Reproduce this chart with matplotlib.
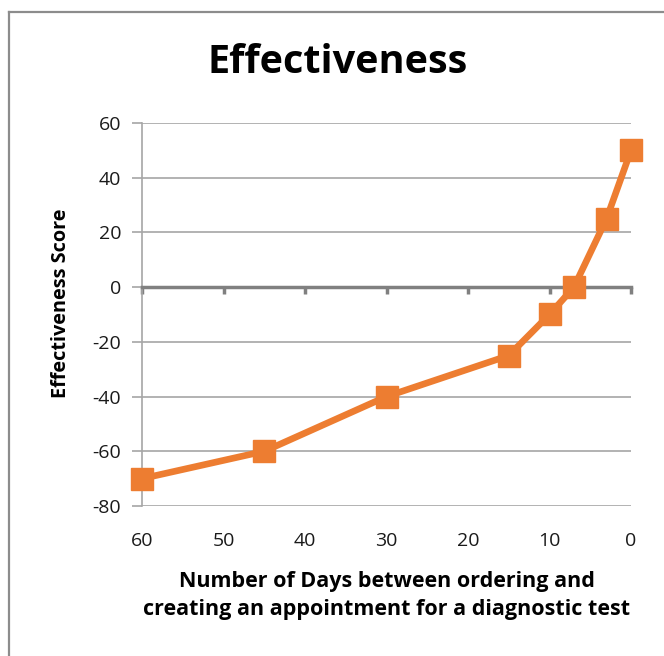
import matplotlib.pyplot as plt
from matplotlib.lines import Line2D

plt.rcParams['font.family'] = ['Open Sans', 'DejaVu Sans']
plt.rcParams['axes.unicode_minus'] = False

# data
days = [60, 45, 30, 15, 10, 7, 3, 0]
score = [-70, -60, -40, -25, -10, 0, 25, 50]
x_ticks = [60, 50, 40, 30, 20, 10, 0]
y_ticks = [60, 40, 20, 0, -20, -40, -60, -80]

orange = '#ED7D31'
grid_gray = '#A6A6A6'
axis_gray = '#808080'

fig = plt.figure(figsize=(6.64, 6.56), dpi=100)
ax = fig.add_axes([0.2139, 0.2287, 0.7364, 0.5838])

ax.plot(days, score, color=orange, lw=4.8, marker='s', ms=16.5,
        markeredgecolor=orange, zorder=5, clip_on=False)

ax.set_xlim(60, 0)
ax.set_ylim(-80, 60)
ax.set_xticks(x_ticks)
ax.set_yticks(y_ticks)

# horizontal gridlines
ax.grid(axis='y', color=grid_gray, lw=1.2)
ax.grid(axis='x', visible=False)
ax.set_axisbelow(True)

# spines: left gray, top moved to y=0 as the category axis
ax.spines['right'].set_visible(False)
ax.spines['bottom'].set_visible(False)
ax.spines['left'].set_color(grid_gray)
ax.spines['left'].set_linewidth(1.2)
ax.spines['top'].set_position(('data', 0))
ax.spines['top'].set_color(axis_gray)
ax.spines['top'].set_linewidth(2.5)
ax.spines['top'].set_zorder(3)

ax.tick_params(axis='x', top=True, bottom=False, labeltop=False,
               labelbottom=True, direction='in', length=5, width=2.5,
               color=axis_gray, pad=19, labelsize=14, labelcolor='#1a1a1a')
ax.tick_params(axis='y', direction='out', length=7, width=1.2,
               color=grid_gray, pad=8, labelsize=14, labelcolor='#1a1a1a')

fig.text(0.508, 0.905, 'Effectiveness', fontsize=28.5, fontweight='bold',
         ha='center', va='center')
ax.set_ylabel('Effectiveness Score', fontsize=14.3, fontweight='bold')
ax.yaxis.set_label_coords(-0.145, 0.53)
ax.set_xlabel('Number of Days between ordering and\n'
              'creating an appointment for a diagnostic test',
              fontsize=15.5, fontweight='bold', labelpad=15, linespacing=1.45)

# outer chart border (left and top only visible)
fig.add_artist(Line2D([0.0136, 0.0136], [0, 0.982], color='#8C8C8C', lw=1.6))
fig.add_artist(Line2D([0.0136, 1.0], [0.982, 0.982], color='#8C8C8C', lw=1.6))

fig.savefig('out.png', dpi=100)
